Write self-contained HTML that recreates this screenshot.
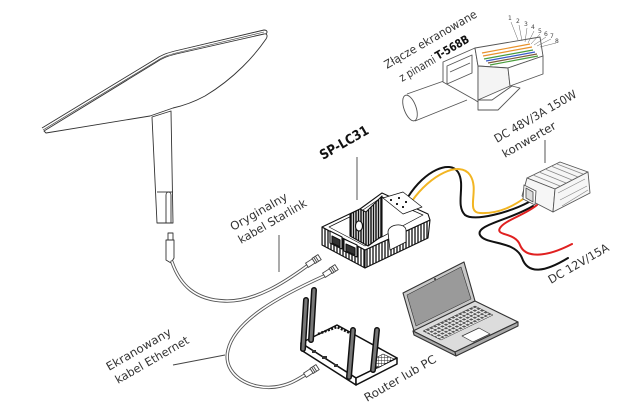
<!DOCTYPE html>
<html><head><meta charset="utf-8"><style>
html,body{margin:0;padding:0;background:#fff;}
svg{display:block}
text{font-family:"DejaVu Sans","Liberation Sans",sans-serif;fill:#333;}
</style></head><body>
<svg width="640" height="411" viewBox="0 0 640 411" xmlns="http://www.w3.org/2000/svg">
<defs>
<pattern id="ribs" width="3" height="10" patternUnits="userSpaceOnUse"><rect width="3" height="10" fill="#fff"/><line x1="1" y1="0" x2="1" y2="10" stroke="#111" stroke-width="1.3"/></pattern>
<pattern id="ribs2" width="2.5" height="10" patternUnits="userSpaceOnUse"><rect width="2.5" height="10" fill="#fff"/><line x1="1" y1="0" x2="1" y2="10" stroke="#111" stroke-width="1.5"/></pattern>
<pattern id="keys" width="4" height="4" patternUnits="userSpaceOnUse" patternTransform="matrix(0.9,-0.44,0.9,0.45,0,0)"><rect width="4" height="4" fill="#e8e8e8"/><rect x="0.5" y="0.5" width="2.6" height="2.6" fill="#555"/></pattern>
<pattern id="grid" width="3" height="3" patternUnits="userSpaceOnUse"><rect width="3" height="3" fill="#fff"/><path d="M0,0H3M0,0V3" stroke="#222" stroke-width="0.9"/></pattern>
</defs>

<!-- Starlink dish -->
<g stroke="#333" stroke-width="0.9" stroke-linejoin="round" fill="#fff">
<path d="M44,131 L155,63 C162,58 168,56 176,54 L264,34 C267,33 268,36 266,39 C255,55 235,78 205,96 C192,103 182,106 173,108 L150,116 C125,120 100,124 46,133 Z"/>
<path d="M42,128 L154,60 C161,55 167,53 175,51 L264,30 C267,30 268,32 266,34" fill="none"/>
<path d="M43,130 L155,62 C162,57 168,55 176,53 L264,32" fill="none" stroke-width="0.6"/>
<path d="M152,117 L171,111 L173,223 L157,223 Z"/>
<line x1="157" y1="192" x2="173" y2="192"/>
<path d="M166,223 L166,195 C166,191 171,191 171,195 L171,223" fill="none"/>
<line x1="157" y1="223" x2="173" y2="223"/>
<rect x="168" y="233" width="5" height="7"/>
<path d="M166,240 L174,240 L174,258 L171,263 L166,260 Z"/>
</g>

<!-- Cables -->
<g fill="none" stroke-linecap="round">
<path d="M172,262 C180,285 195,300 225,301 C255,302 285,282 307,266" stroke="#555" stroke-width="3.4"/>
<path d="M172,262 C180,285 195,300 225,301 C255,302 285,282 307,266" stroke="#fff" stroke-width="1.6"/>
<path d="M324,276 C280,296 235,320 228,350 C222,375 250,390 275,387 C290,385 298,379 305,375" stroke="#555" stroke-width="3.4"/>
<path d="M324,276 C280,296 235,320 228,350 C222,375 250,390 275,387 C290,385 298,379 305,375" stroke="#fff" stroke-width="1.6"/>
</g>
<g fill="#fff" stroke="#444" stroke-width="0.9">
<g transform="translate(312,262) rotate(-33)"><rect x="-6" y="-2.5" width="8" height="5"/><rect x="2" y="-3" width="7" height="6"/><line x1="4" y1="-3" x2="4" y2="3"/><line x1="6" y1="-3" x2="6" y2="3"/></g>
<g transform="translate(329,272) rotate(-33)"><rect x="-6" y="-2.5" width="8" height="5"/><rect x="2" y="-3" width="7" height="6"/><line x1="4" y1="-3" x2="4" y2="3"/><line x1="6" y1="-3" x2="6" y2="3"/></g>
<g transform="translate(310,372) rotate(-33)"><rect x="-6" y="-2.5" width="8" height="5"/><rect x="2" y="-3" width="7" height="6"/><line x1="4" y1="-3" x2="4" y2="3"/><line x1="6" y1="-3" x2="6" y2="3"/></g>
</g>

<!-- leader lines -->
<g stroke="#444" stroke-width="0.9">
<line x1="279" y1="235" x2="279" y2="272"/>
<line x1="173" y1="365" x2="225" y2="355"/>
<line x1="357" y1="157" x2="357" y2="200"/>
<line x1="545" y1="140" x2="545" y2="163"/>
</g>

<!-- RJ45 plug -->
<g stroke="#555" stroke-width="0.9" stroke-linejoin="round">
<path d="M407,95 L458,77 L468,100 L416,121 Z" fill="#fff" stroke="none"/>
<line x1="407" y1="94" x2="458" y2="76" fill="none"/>
<line x1="415" y1="121" x2="467" y2="100" fill="none"/>
<ellipse cx="410" cy="108" rx="6" ry="13.5" transform="rotate(-20 410 108)" fill="#fff"/>
<path d="M478,100 L492,100 L512,86 L520,88 L498,110 L478,110 Z" fill="#fff"/>
<path d="M475,48 L443,62 L443,82 L475,100 L478,102 L478,66 Z" fill="#fff"/>
<path d="M447,66 L472,55 L472,73 L447,84 Z" fill="#fff"/>
<line x1="450" y1="72" x2="470" y2="63"/>
<path d="M475,48 L540,37 L543,56 L508,68 L478,66 Z" fill="#fff"/>
<path d="M478,66 L508,68 L510,86 L478,100 Z" fill="#f4f4f4"/>
<path d="M508,68 L543,56 L543,74 L510,86 Z" fill="#fff"/>
</g>
<g stroke-width="1.2" fill="none">
<line x1="482" y1="53" x2="530" y2="44" stroke="#e8922c"/>
<line x1="483" y1="56" x2="532" y2="47" stroke="#e8922c"/>
<line x1="484" y1="59" x2="533" y2="50" stroke="#4a9c3c"/>
<line x1="486" y1="61" x2="535" y2="52" stroke="#3a5ac8"/>
<line x1="488" y1="63" x2="537" y2="54" stroke="#7a5a3a"/>
<line x1="490" y1="65" x2="538" y2="56" stroke="#4a9c3c"/>
</g>
<g stroke="#666" stroke-width="0.5" fill="none">
<line x1="511" y1="22" x2="518" y2="40"/>
<line x1="519" y1="25" x2="522" y2="41"/>
<line x1="527" y1="28" x2="525" y2="42"/>
<line x1="534" y1="31" x2="528" y2="43"/>
<line x1="540" y1="34" x2="531" y2="44"/>
<line x1="546" y1="37" x2="534" y2="45"/>
<line x1="551" y1="39" x2="537" y2="46"/>
<line x1="556" y1="43" x2="540" y2="47"/>
</g>
<g font-size="6">
<text x="508" y="20" style="fill:#444">1</text>
<text x="516" y="23" style="fill:#444">2</text>
<text x="524" y="26" style="fill:#444">3</text>
<text x="531" y="29" style="fill:#444">4</text>
<text x="538" y="33" style="fill:#444">5</text>
<text x="544" y="36" style="fill:#444">6</text>
<text x="550" y="38" style="fill:#444">7</text>
<text x="555" y="43" style="fill:#444">8</text>
</g>

<!-- Wires -->
<g fill="none" stroke-linecap="round" stroke-width="2">
<path d="M408,197 C425,170 450,160 458,172 C466,185 455,205 465,215 C475,222 510,212 529,202" stroke="#111"/>
<path d="M412,201 C430,175 460,160 470,175 C480,190 465,212 480,213 C500,214 515,205 526,197" stroke="#f2b522"/>
<path d="M533,206 C510,220 475,225 480,235 C485,245 515,240 522,258 C528,275 545,272 568,258" stroke="#111"/>
<path d="M537,205 C525,215 505,220 500,228 C495,236 515,232 520,245 C525,258 545,258 572,244" stroke="#e02020"/>
</g>

<!-- Converter -->
<g stroke="#555" stroke-width="0.9" stroke-linejoin="round" fill="#f6f6f6">
<path d="M527,178 L560,162 L588,172 L555,189 Z"/>
<path d="M527,178 L555,189 L553,212 L522,196 Z"/>
<path d="M555,189 L588,172 L590,193 L553,212 Z"/>
<g fill="none" stroke="#888" stroke-width="0.7">
<path d="M533,175 L560,186 M539,172 L566,183 M545,169 L572,180 M551,166 L578,177 M557,164 L583,174"/>
<path d="M558,193 L585,179 M560,200 L587,186 M562,206 L588,190"/>
</g>
<path d="M524,185 L536,191 L535,205 L523,199 Z" fill="#fff"/>
<path d="M526,188 L533,192 L533,202 L526,198 Z" fill="#ddd"/>
</g>

<!-- SP-LC31 device -->
<g stroke="#111" stroke-width="1.1" stroke-linejoin="round">
<path d="M322,227 L365,250 L365,268 L322,245 Z" fill="url(#ribs)"/>
<path d="M365,250 L430,220 L428,238 L365,268 Z" fill="url(#ribs)"/>
<path d="M322,227 L360,209 L382,193 L428,214 L430,220 L365,250 Z" fill="#fff"/>
<path d="M329,227 L360,212 L382,197 L423,215 L365,246 Z" fill="#fff" stroke-width="0.7"/>
<path d="M350,214 L360,209 L366,212 L382,196 L382,236 L368,246 L350,236 Z" fill="url(#ribs2)"/>
<ellipse cx="359" cy="226" rx="3.5" ry="5" fill="#fff"/>
<path d="M383,198 L403,192 L422,207 L403,214 Z" fill="#fff" stroke-width="0.7"/>
<g fill="#222" stroke="none"><rect x="390" y="199" width="2" height="2"/><rect x="396" y="203" width="2" height="2"/><rect x="402" y="206" width="2" height="2"/><rect x="398" y="197" width="2" height="2"/><rect x="405" y="201" width="2" height="2"/></g>
<path d="M388,232 C388,224 405,222 406,230 L406,242 L390,250 Z" fill="#fff" stroke-width="0.8"/>
<path d="M330,231 L342,237 L342,249 L330,243 Z" fill="#fff"/>
<path d="M332,236 L340,240 L340,247 L332,243 Z" fill="#333"/>
<path d="M344,239 L357,245 L357,257 L344,251 Z" fill="#fff"/>
<path d="M346,244 L355,248 L355,255 L346,251 Z" fill="#333"/>
</g>

<!-- Laptop -->
<g stroke="#333" stroke-width="1.1" stroke-linejoin="round">
<path d="M403,293 L464,262 L475,301 L414,331 Z" fill="#c8c8c8"/>
<path d="M407,295 L461,267 L471,299 L416,326 Z" fill="#9a9a9a" stroke-width="0.6"/>
<circle cx="435" cy="279" r="1" fill="#333" stroke="none"/>
<path d="M413,331 L475,301 L518,322 L455,352 Z" fill="#dcdcdc"/>
<path d="M413,331 L455,352 L456,356 L414,335 Z" fill="#aaa"/>
<path d="M455,352 L518,322 L518,326 L456,356 Z" fill="#aaa"/>
<path d="M423,331 L475,306 L493,315 L441,340 Z" fill="url(#keys)" stroke-width="0.5"/>
<path d="M462,336 L479,328 L490,334 L473,342 Z" fill="#fff" stroke-width="0.7"/>
</g>

<!-- Router -->
<g stroke="#111" stroke-width="1.5" stroke-linejoin="round">
<path d="M301,343 L337,325 L397,358 L356,378 Z" fill="#fff"/>
<path d="M301,343 L356,378 L356,385 L301,350 Z" fill="#fff"/>
<path d="M356,378 L397,358 L397,364 L356,385 Z" fill="#fff"/>
<path d="M372,360 L383,354 L394,359 L378,368 Z" fill="url(#grid)" stroke-width="0.6"/>
<path d="M318,334 L337,327 L350,333" fill="none" stroke-width="2.5" stroke-dasharray="2 1.5"/>
<g fill="#333" stroke="none"><rect x="312" y="350" width="4" height="3"/><rect x="322" y="356" width="5" height="3"/><rect x="334" y="364" width="4" height="3"/></g>
</g>
<g stroke-linecap="round" fill="none">
<line x1="303" y1="349" x2="306" y2="300" stroke="#111" stroke-width="6"/>
<line x1="303" y1="349" x2="306" y2="300" stroke="#777" stroke-width="3"/>
<line x1="311" y1="340" x2="314" y2="290" stroke="#111" stroke-width="6"/>
<line x1="311" y1="340" x2="314" y2="290" stroke="#777" stroke-width="3"/>
<line x1="349" y1="377" x2="353" y2="330" stroke="#111" stroke-width="6"/>
<line x1="349" y1="377" x2="353" y2="330" stroke="#777" stroke-width="3"/>
<line x1="373" y1="370" x2="377" y2="330" stroke="#111" stroke-width="6"/>
<line x1="373" y1="370" x2="377" y2="330" stroke="#777" stroke-width="3"/>
</g>

<!-- Labels -->
<g font-size="11.5">
<text transform="translate(387,69) rotate(-30)" textLength="105" lengthAdjust="spacingAndGlyphs">Złącze ekranowane</text>
<text transform="translate(402,82) rotate(-30)" textLength="40" lengthAdjust="spacingAndGlyphs">z pinami</text>
<text transform="translate(438,60) rotate(-30)" font-weight="bold" textLength="37" lengthAdjust="spacingAndGlyphs" style="fill:#111">T-568B</text>
<text transform="translate(323,160) rotate(-30)" font-size="13.5" font-weight="bold" textLength="54" lengthAdjust="spacingAndGlyphs" style="fill:#111">SP-LC31</text>
<text transform="translate(497,143) rotate(-30)" textLength="93" lengthAdjust="spacingAndGlyphs">DC 48V/3A 150W</text>
<text transform="translate(505,158) rotate(-30)" textLength="60" lengthAdjust="spacingAndGlyphs">konwerter</text>
<text transform="translate(233,231) rotate(-30)" textLength="64" lengthAdjust="spacingAndGlyphs">Oryginalny</text>
<text transform="translate(241,244) rotate(-30)" textLength="77" lengthAdjust="spacingAndGlyphs">kabel Starlink</text>
<text transform="translate(109,371) rotate(-30)" textLength="73" lengthAdjust="spacingAndGlyphs">Ekranowany</text>
<text transform="translate(118,384) rotate(-30)" textLength="83" lengthAdjust="spacingAndGlyphs">kabel Ethernet</text>
<text transform="translate(367,402) rotate(-30)" textLength="81" lengthAdjust="spacingAndGlyphs">Router lub PC</text>
<text transform="translate(551,284) rotate(-30)" textLength="68" lengthAdjust="spacingAndGlyphs">DC 12V/15A</text>
</g>
</svg>
</body></html>
